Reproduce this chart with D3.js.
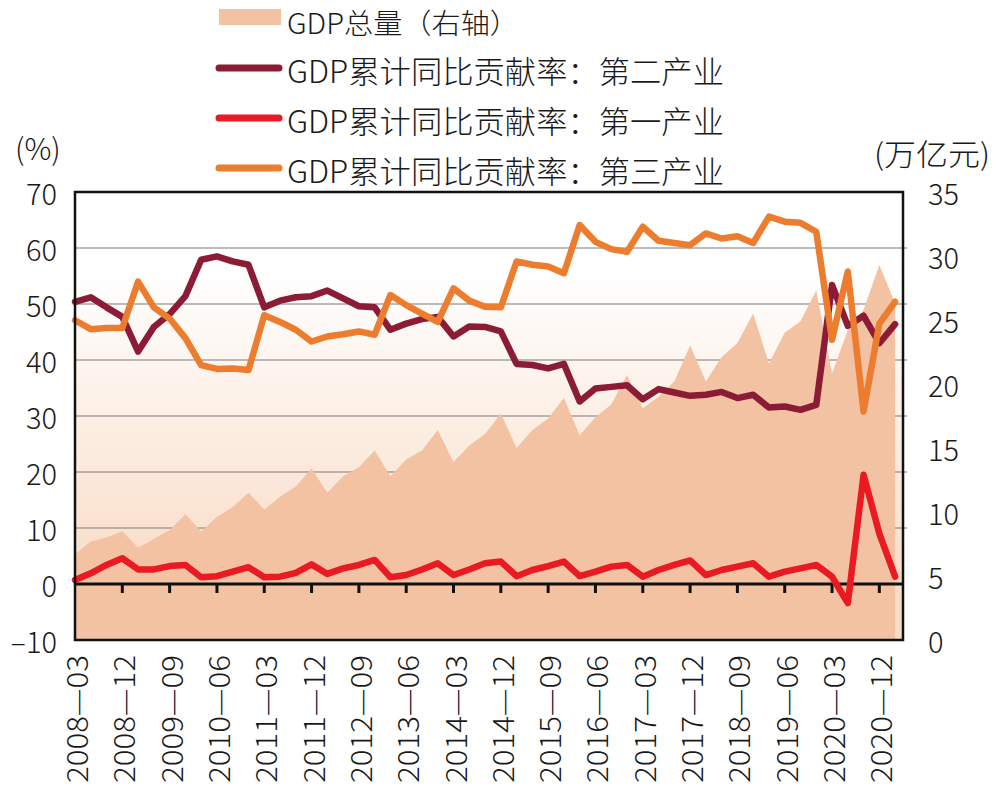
<!DOCTYPE html>
<html><head><meta charset="utf-8">
<script src="https://cdn.jsdelivr.net/npm/d3@7"></script>
<style>
html,body{margin:0;padding:0;background:#fff;}
svg{display:block;}
text{font-family:'Noto Sans CJK SC','Noto Sans',sans-serif;font-weight:300;fill:#1a1a1a;}
</style></head>
<body>
<svg id="chart" width="996" height="786"></svg>
<script>
const quarters = ["2008-03","2008-06","2008-09","2008-12","2009-03","2009-06","2009-09","2009-12",
"2010-03","2010-06","2010-09","2010-12","2011-03","2011-06","2011-09","2011-12",
"2012-03","2012-06","2012-09","2012-12","2013-03","2013-06","2013-09","2013-12",
"2014-03","2014-06","2014-09","2014-12","2015-03","2015-06","2015-09","2015-12",
"2016-03","2016-06","2016-09","2016-12","2017-03","2017-06","2017-09","2017-12",
"2018-03","2018-06","2018-09","2018-12","2019-03","2019-06","2019-09","2019-12",
"2020-03","2020-06","2020-09","2020-12","2021-03"];
const tickLabels = ["2008—03","2008—12","2009—09","2010—06","2011—03","2011—12","2012—09",
"2013—06","2014—03","2014—12","2015—09","2016—06","2017—03","2017—12","2018—09","2019—06",
"2020—03","2020—12"];
// GDP total (right axis, 万亿元)
const gdpTotal = [6.7,7.7,8.0,8.5, 7.2,7.9,8.6,9.8, 8.5,9.6,10.4,11.5, 10.2,11.2,12.0,13.4,
11.5,12.8,13.5,14.8, 12.8,14.1,14.8,16.4, 13.9,15.2,16.1,17.7, 15.0,16.4,17.3,18.9,
16.0,17.4,18.4,20.7, 18.1,19.0,20.2,23.0, 20.2,22.1,23.2,25.5, 21.6,24.0,24.9,27.3,
20.8,24.2,25.8,29.3, 26.3];
// contribution rates (%)
const secondary = [50.4,51.2,49.4,47.7, 41.5,45.9,48.2,51.4, 57.9,58.5,57.6,57.0, 49.4,50.6,51.2,51.4,
52.4,51.0,49.6,49.4, 45.4,46.5,47.3,47.7, 44.2,46.0,45.9,45.1, 39.3,39.1,38.5,39.3,
32.6,34.9,35.2,35.5, 33.0,34.8,34.2,33.6, 33.8,34.3,33.2,33.8, 31.5,31.7,31.1,32.0,
53.4,46.1,47.9,43.0, 46.4];
const primary = [0.7,1.9,3.4,4.6, 2.6,2.6,3.2,3.4, 1.2,1.4,2.2,3.0, 1.2,1.3,2.0,3.5,
1.8,2.8,3.4,4.3, 1.2,1.6,2.6,3.7, 1.6,2.6,3.7,4.0, 1.4,2.5,3.2,4.0,
1.4,2.2,3.1,3.4, 1.3,2.5,3.4,4.2, 1.6,2.5,3.1,3.7, 1.3,2.2,2.8,3.4,
1.3,-3.4,19.5,9.0, 1.3];
const tertiary = [47.1,45.5,45.7,45.7, 54.0,49.4,47.4,43.9, 39.1,38.4,38.5,38.2, 48.0,46.8,45.4,43.3,
44.2,44.6,45.1,44.5, 51.6,49.8,48.3,46.8, 52.8,50.6,49.5,49.4, 57.6,57.0,56.7,55.5,
64.1,61.1,59.8,59.3, 63.8,61.3,60.9,60.5, 62.6,61.7,62.1,60.9, 65.6,64.7,64.5,62.9,
43.6,55.8,30.8,46.5, 50.4];
const leftTicks = [70,60,50,40,30,20,10,0,-10];
const rightTicks = [35,30,25,20,15,10,5,0];
const legendLabels = ["GDP总量（右轴）","GDP累计同比贡献率：第二产业","GDP累计同比贡献率：第一产业","GDP累计同比贡献率：第三产业"];

const colors = {area:"#f2c2a2", secondary:"#8c1c35", primary:"#ea1a22", tertiary:"#ec7d2e"};

const svg = d3.select("#chart");
const L = 75, R = 903, T = 192, B = 640;
const x = d3.scaleLinear().domain([0, 52.5]).range([L, R]);
const yL = d3.scaleLinear().domain([-10, 70]).range([B, T]);
const yR = d3.scaleLinear().domain([0, 35]).range([B, T]);

// background gradient
const defs = svg.append("defs");
const grad = defs.append("linearGradient").attr("id","bg").attr("x1",0).attr("y1",0).attr("x2",0).attr("y2",1);
grad.append("stop").attr("offset","0.18").attr("stop-color","#ffffff");
grad.append("stop").attr("offset","0.87").attr("stop-color","#f9dcc7");
grad.append("stop").attr("offset","1").attr("stop-color","#f9dcc7");
svg.append("rect").attr("x",L).attr("y",T).attr("width",R-L).attr("height",B-T).attr("fill","url(#bg)");

// gridlines
svg.append("g").selectAll("line").data(leftTicks.filter(d=>d>0 && d<70)).join("line")
  .attr("x1",L).attr("x2",R+4).attr("y1",d=>yL(d)).attr("y2",d=>yL(d))
  .attr("stroke","#7a7a7a").attr("stroke-width",1.2);

// area
const idx = d3.range(quarters.length);
const area = d3.area().x(i=>x(i)).y0(yR(0)).y1(i=>yR(gdpTotal[i]));
svg.append("path").datum(idx).attr("d",area).attr("fill",colors.area);

// zero line
svg.append("line").attr("x1",L).attr("x2",R).attr("y1",yL(0)).attr("y2",yL(0))
  .attr("stroke","#111").attr("stroke-width",3);

// x ticks
const tickIdx = d3.range(0, quarters.length, 3);
svg.append("g").selectAll("line").data(tickIdx.slice(1)).join("line")
  .attr("x1",i=>x(i)).attr("x2",i=>x(i)).attr("y1",yL(0)).attr("y2",yL(0)+9)
  .attr("stroke","#111").attr("stroke-width",3);

// lines
const lineGen = arr => d3.line().x(i=>x(i)).y(i=>yL(arr[i]));
[["secondary",secondary],["tertiary",tertiary],["primary",primary]].forEach(([k,arr])=>{
  svg.append("path").datum(idx).attr("d",lineGen(arr)).attr("fill","none")
    .attr("stroke",colors[k]).attr("stroke-width",6.5).attr("stroke-linejoin","round").attr("stroke-linecap","round");
});

// frame
svg.append("rect").attr("x",L).attr("y",T).attr("width",R-L).attr("height",B-T)
  .attr("fill","none").attr("stroke","#111").attr("stroke-width",2.5);

// left axis labels
svg.append("g").selectAll("text").data(leftTicks).join("text")
  .attr("x",57).attr("y",d=>yL(d)).attr("text-anchor","end").attr("dominant-baseline","central")
  .attr("font-size",29).text(d=>d<0 ? "–"+Math.abs(d) : d);
// right axis labels
svg.append("g").selectAll("text").data(rightTicks).join("text")
  .attr("x",928).attr("y",d=>yR(d)).attr("text-anchor","start").attr("dominant-baseline","central")
  .attr("font-size",29).text(d=>d);

// axis units
svg.append("text").attr("x",15).attr("y",147).attr("dominant-baseline","central").attr("font-size",30).text("(%)");
svg.append("text").attr("x",874).attr("y",152).attr("dominant-baseline","central").attr("font-size",30)
  .attr("textLength",116).attr("lengthAdjust","spacingAndGlyphs").text("(万亿元)");

// x labels
svg.append("g").selectAll("text").data(tickIdx).join("text")
  .attr("transform",(i)=>`translate(${x(i)},655) rotate(-90)`)
  .attr("text-anchor","end").attr("dominant-baseline","central").attr("font-size",29)
  .attr("textLength",128).attr("lengthAdjust","spacingAndGlyphs")
  .text((i,k)=>tickLabels[k]);

// legend
const lg = svg.append("g");
const legY = [18,68,118,168];
const legTextY = [22,69,119,169];
const legFS = [28,31,31,31];
lg.append("rect").attr("x",219).attr("y",9).attr("width",62).attr("height",16).attr("fill",colors.area);
[["secondary",1],["primary",2],["tertiary",3]].forEach(([k,j])=>{
  lg.append("line").attr("x1",219).attr("x2",279).attr("y1",legY[j]).attr("y2",legY[j])
    .attr("stroke",colors[k]).attr("stroke-width",7).attr("stroke-linecap","round");
});
lg.selectAll("text").data(legendLabels).join("text")
  .attr("x",287).attr("y",(d,j)=>legTextY[j]).attr("dominant-baseline","central").attr("font-size",(d,j)=>legFS[j])
  .attr("textLength",(d,j)=> j===0 ? 232 : 437).attr("lengthAdjust","spacingAndGlyphs")
  .text(d=>d);
</script>
</body></html>
